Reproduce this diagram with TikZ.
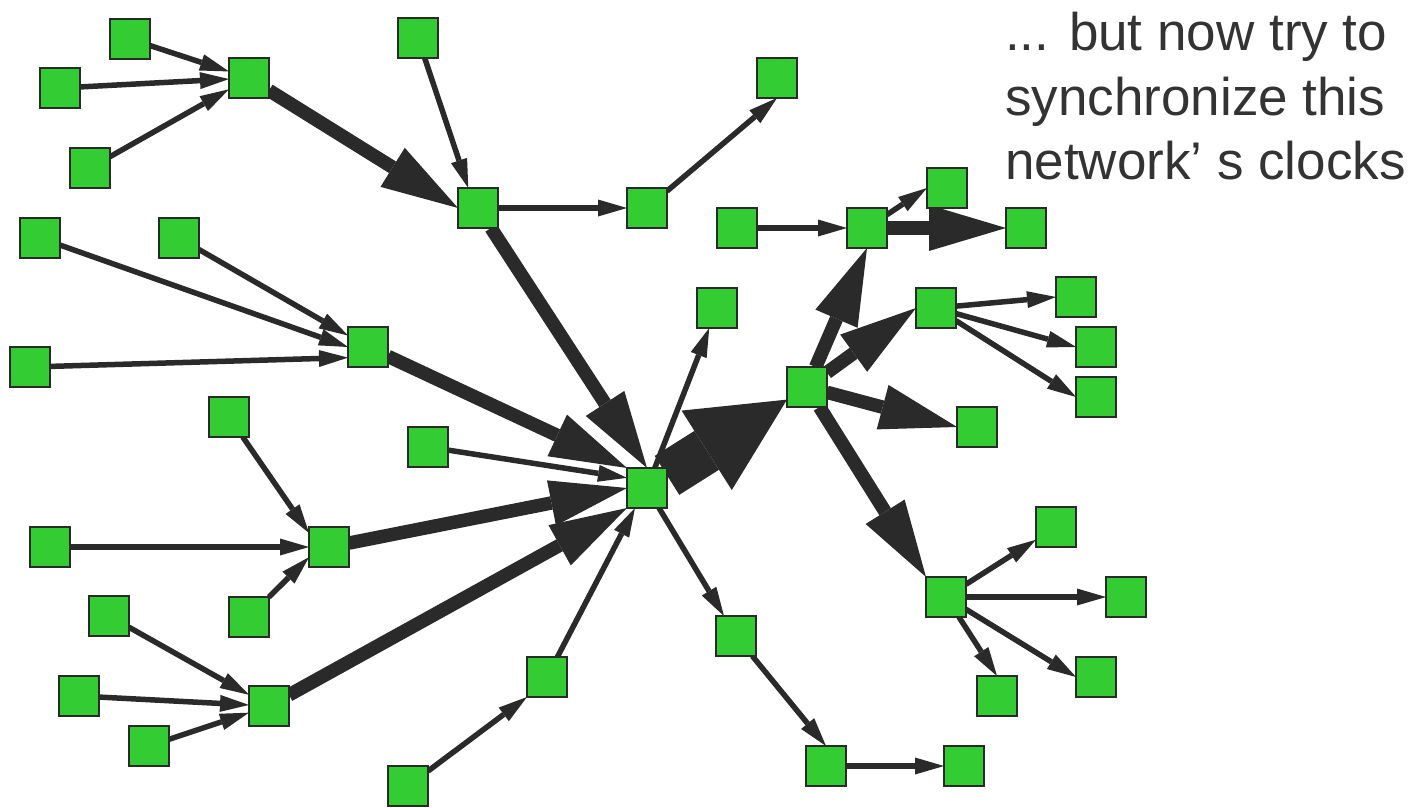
\documentclass[tikz,border=0pt]{standalone}
\usepackage{fontspec}
\setmainfont{Liberation Sans}
\usetikzlibrary{arrows.meta}
\definecolor{nodegreen}{RGB}{51,204,51}
\definecolor{edgegray}{RGB}{42,42,42}
\definecolor{textgray}{RGB}{51,51,51}
\pgfdeclarelayer{edgelayer}
\pgfsetlayers{edgelayer,main}
\begin{document}
\begin{tikzpicture}[x=1pt,y=-1pt,
  sq/.style={rectangle, draw=edgegray, fill=nodegreen, line width=2pt,
    minimum width=40pt, minimum height=40pt, inner sep=0pt, outer sep=0pt},
  lnk/.style={draw=edgegray, line width=5.5pt,
    -{Triangle[length=29pt,width=17pt,line width=0pt]}},
  thk/.style={draw=edgegray, line width=13.5pt,
    -{Triangle[length=77pt,width=46pt,line width=0pt]}},
  hug/.style={draw=edgegray, line width=46pt,
    -{Triangle[length=95pt,width=94pt,line width=0pt]}},
  lbl/.style={anchor=base west, inner sep=0pt, text=textgray,
    font=\fontsize{53}{64}\selectfont}
]
\useasboundingbox (0,0) rectangle (1421,808);

% nodes
\node[sq] (A1) at (130,39) {};
\node[sq] (A2) at (60,88) {};
\node[sq] (A3) at (249,78) {};
\node[sq] (A4) at (90,168) {};
\node[sq] (B1) at (418,38) {};
\node[sq] (B2) at (777,78) {};
\node[sq] (C) at (478,208) {};
\node[sq] (D) at (647,208) {};
\node[sq] (E1) at (40,238) {};
\node[sq] (E2) at (179,238) {};
\node[sq] (E3) at (368,347) {};
\node[sq] (E4) at (30,367) {};
\node[sq] (F1) at (229,417) {};
\node[sq] (F2) at (428,447) {};
\node[sq] (G) at (647,488) {};
\node[sq] (H1) at (50,547) {};
\node[sq] (H2) at (329,547) {};
\node[sq] (H3) at (249,617) {};
\node[sq] (I1) at (109,616) {};
\node[sq] (I2) at (79,696) {};
\node[sq] (I3) at (269,706) {};
\node[sq] (I4) at (149,746) {};
\node[sq] (J1) at (547,677) {};
\node[sq] (J2) at (408,786) {};
\node[sq] (K1) at (717,308) {};
\node[sq] (L) at (807,387) {};
\node[sq] (M1) at (737,228) {};
\node[sq] (M2) at (867,228) {};
\node[sq] (M3) at (947,188) {};
\node[sq] (M4) at (1026,228) {};
\node[sq] (N1) at (936,308) {};
\node[sq] (N2) at (1076,297) {};
\node[sq] (N3) at (1096,347) {};
\node[sq] (N4) at (1096,397) {};
\node[sq] (O) at (977,427) {};
\node[sq] (P) at (736,636) {};
\node[sq] (Q1) at (826,766) {};
\node[sq] (Q2) at (964,766) {};
\node[sq] (R) at (946,597) {};
\node[sq] (R1) at (1056,527) {};
\node[sq] (R2) at (1126,597) {};
\node[sq] (R3) at (1096,677) {};
\node[sq] (R4) at (997,696) {};

% text
\node[lbl] (t1) at (1005,51) {... but now try to};
\node[lbl] (t2) at (1005,115) {synchronize this};
\node[lbl] (t3) at (1005,179) {network’ s clocks};

% edges
\begin{pgfonlayer}{edgelayer}
\draw[lnk] (A1) -- (A3);
\draw[lnk] (A2) -- (A3);
\draw[lnk] (A4) -- (A3);
\draw[thk] (A3) -- (C.west);
\draw[lnk] (B1) -- (C.116.6);
\draw[lnk] (C) -- (D);
\draw[lnk] (D) -- (B2.south);
\draw[thk] (C) -- (G.north);
\draw[lnk] (E1) -- (E3.west);
\draw[lnk] (E2) -- (E3);
\draw[lnk] (E4) -- (E3.208);
\draw[thk] (E3) -- (G.north west);
\draw[lnk] (F2) -- (G.153);
\draw[lnk] (F1) -- (H2.145);
\draw[lnk] (H1) -- (H2);
\draw[lnk] (H3) -- (H2.207);
\draw[thk] (H2) -- (G.west);
\draw[lnk] (I1) -- (I3);
\draw[lnk] (I2) -- (I3);
\draw[lnk] (I4) -- (I3);
\draw[thk] (I3) -- (G.south west);
\draw[lnk] (J2) -- (J1.south west);
\draw[lnk] (J1) -- (G.239);
\draw[lnk] (G) -- (K1);
\draw[hug] (G) -- (L);
\draw[lnk] (G) -- (P);
\draw[lnk] (P) -- (Q1.north);
\draw[lnk] (Q1) -- (Q2);
\draw[lnk] (M1) -- (M2);
\draw[thk] (L) -- (M2.south);
\draw[lnk] (M2) -- (M3.west);
\draw[thk] (M2) -- (M4);
\draw[thk] (L) -- (N1.west);
\draw[lnk] (N1) -- (N2.west);
\draw[lnk] (N1) -- (N3.west);
\draw[lnk] (N1) -- (N4.west);
\draw[thk] (L) -- (O.west);
\draw[thk] (L) -- (R.north west);
\draw[lnk] (R) -- (R1);
\draw[lnk] (R) -- (R2);
\draw[lnk] (R) -- (R3.west);
\draw[lnk] (R) -- (R4.north);
\end{pgfonlayer}
\end{tikzpicture}
\end{document}
